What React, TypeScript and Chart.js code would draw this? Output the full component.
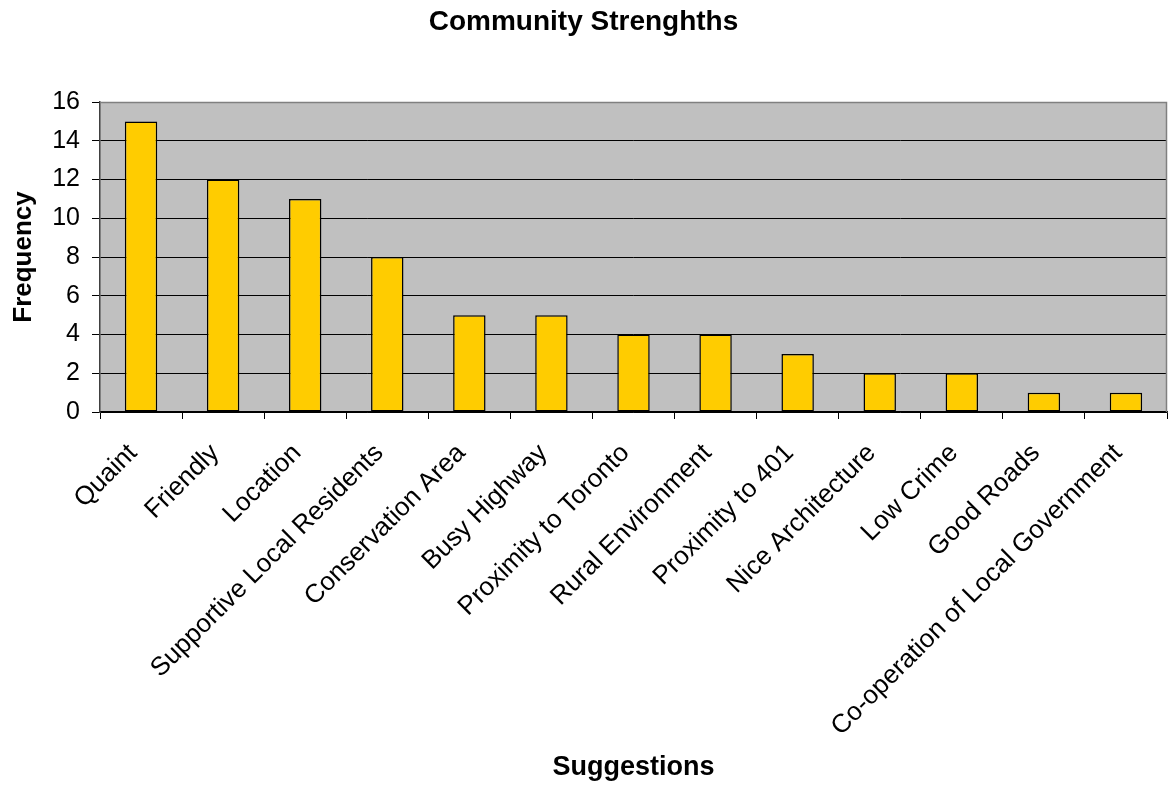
import React, { useEffect, useRef } from "react";
import { Chart, registerables } from "chart.js";

Chart.register(...registerables);

const categories = [
  "Quaint",
  "Friendly",
  "Location",
  "Supportive Local Residents",
  "Conservation Area",
  "Busy Highway",
  "Proximity to Toronto",
  "Rural Environment",
  "Proximity to 401",
  "Nice Architecture",
  "Low Crime",
  "Good Roads",
  "Co-operation of Local Government",
];

const frequency = [15, 12, 11, 8, 5, 5, 4, 4, 3, 2, 2, 1, 1];

const yTicks = [0, 2, 4, 6, 8, 10, 12, 14, 16];

const FONT = "'Liberation Sans', Arial, sans-serif";

// Grey plot background with a thin grey frame, like a classic spreadsheet chart
const plotArea = {
  id: "plotArea",
  beforeDraw(chart: any) {
    const { ctx, chartArea } = chart;
    const { left, top, right, bottom } = chartArea;
    ctx.save();
    ctx.fillStyle = "#C0C0C0";
    ctx.fillRect(left, top, right - left, bottom - top);
    ctx.restore();
  },
  afterDatasetsDraw(chart: any) {
    const { ctx, chartArea } = chart;
    const { left, top, right, bottom } = chartArea;
    ctx.save();
    ctx.strokeStyle = "#808080";
    ctx.lineWidth = 1.5;
    ctx.beginPath();
    ctx.moveTo(left, top + 0.5);
    ctx.lineTo(right - 0.5, top + 0.5);
    ctx.lineTo(right - 0.5, bottom);
    ctx.stroke();
    ctx.restore();
  },
};

export default function App() {
  const canvasRef = useRef<HTMLCanvasElement | null>(null);

  useEffect(() => {
    const canvas = canvasRef.current;
    if (!canvas) return;
    const chart = new Chart(canvas, {
      type: "bar",
      data: {
        labels: categories,
        datasets: [
          {
            label: "Frequency",
            data: frequency,
            backgroundColor: "#FFCC00",
            borderColor: "#000000",
            borderWidth: 1.5,
            borderSkipped: false,
            categoryPercentage: 1,
            barPercentage: 0.395,
          },
        ],
      },
      options: {
        animation: false,
        responsive: false,
        maintainAspectRatio: false,
        layout: { padding: { top: 0, right: 1, bottom: 3, left: 0 } },
        plugins: {
          legend: { display: false },
          tooltip: { enabled: false },
          title: {
            display: true,
            text: "Community Strenghths",
            color: "#000",
            font: { family: FONT, size: 28, weight: "bold" },
            padding: { top: 5, bottom: 63.4 },
          },
        },
        scales: {
          x: {
            offset: true,
            grid: {
              display: true,
              offset: true,
              drawOnChartArea: false,
              drawTicks: true,
              tickLength: 7,
              color: "#000",
            },
            border: { display: true, color: "#000", width: 1.5 },
            ticks: {
              autoSkip: false,
              maxRotation: 45,
              minRotation: 45,
              color: "#000",
              padding: 19,
              labelOffset: -8,
              font: { family: FONT, size: 26 },
            },
            title: {
              display: true,
              text: "Suggestions",
              color: "#000",
              font: { family: FONT, size: 27, weight: "bold" },
              padding: { top: 0, bottom: 0 },
            },
            afterFit(scale: any) {
              scale.height = 372;
            },
          },
          y: {
            min: 0,
            max: 16,
            afterBuildTicks(scale: any) {
              scale.ticks = yTicks.map((v) => ({ value: v }));
            },
            grid: {
              color: "#000",
              lineWidth: 1,
              drawTicks: true,
              tickLength: 8,
            },
            border: { display: true, color: "#404040", width: 1.5 },
            ticks: {
              color: "#000",
              padding: 12,
              font: { family: FONT, size: 25 },
            },
            title: {
              display: true,
              text: "Frequency",
              color: "#000",
              font: { family: FONT, size: 26, weight: "bold" },
              padding: { top: 8, bottom: 0 },
            },
            afterFit(scale: any) {
              scale.width = 100;
            },
          },
        },
      },
      plugins: [plotArea],
    });
    return () => chart.destroy();
  }, []);

  return (
    <div style={{ position: "fixed", left: 0, top: 0, width: 1168, height: 787, background: "#fff" }}>
      <canvas ref={canvasRef} width={1168} height={787} style={{ display: "block" }} />
    </div>
  );
}
